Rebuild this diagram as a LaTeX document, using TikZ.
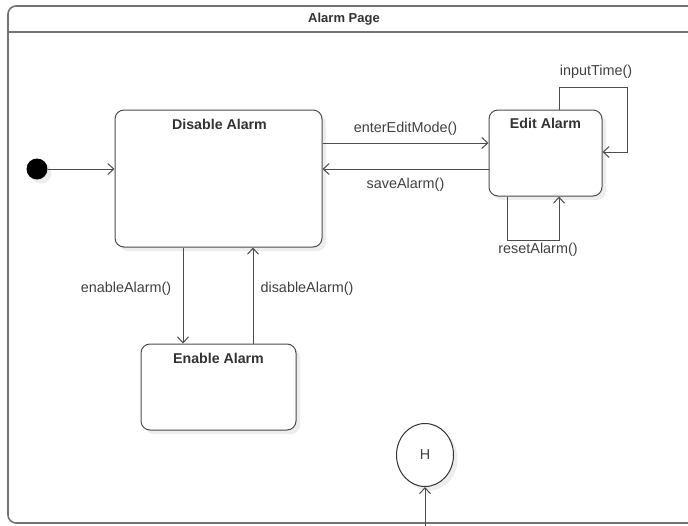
\documentclass[tikz,border=0pt]{standalone}
\usepackage{fontspec}
\setmainfont{Liberation Sans}
\usetikzlibrary{arrows.meta,shadows,shapes.geometric}
\begin{document}
\begin{tikzpicture}[x=1pt,y=-1pt,
  lbl/.style={font=\fontsize{14.4}{16}\selectfont, text=black!75},
  ttl/.style={font=\fontsize{14.2}{16}\selectfont\bfseries, text=black!80},
  shd/.style={drop shadow={shadow xshift=4pt,shadow yshift=-4pt,opacity=0.07,fill=black}},
  state/.style={draw=black!70, line width=1pt, rounded corners=9pt, fill=white, shd, inner sep=0pt},
  edge/.style={draw=black!70, line width=1pt, -{Straight Barb[length=6pt,width=11pt,line width=1pt]}},
  plain/.style={draw=black!70, line width=1pt}
]
\useasboundingbox (0,0) rectangle (688,525);
\clip (0,0) rectangle (688,525);
% frame
\draw[draw=black!55, line width=1.6pt, rounded corners=8pt] (720,6) -- (8,6) -- (8,523) -- (720,523);
\draw[draw=black!55, line width=1.6pt] (8,32) -- (720,32);
\node[font=\fontsize{13}{15}\selectfont\bfseries, text=black!80] (frametitle) at (344,19) {Alarm Page};

% initial
\node[circle, fill=black, minimum size=21pt, inner sep=0pt, shd] (init) at (37,169) {};

% states
\node[state, minimum width=207pt, minimum height=137pt] (dis) at (218.5,178.5) {};
\node[ttl, anchor=north] (distitle) at (219.5,116) {Disable Alarm};
\node[state, minimum width=113pt, minimum height=86pt] (edit) at (545.5,153) {};
\node[ttl, anchor=north] (edittitle) at (545.5,115) {Edit Alarm};
\node[state, minimum width=155pt, minimum height=86pt] (en) at (218.5,387) {};
\node[ttl, anchor=north] (entitle) at (218.5,350) {Enable Alarm};
\node[ellipse, draw=black!80, line width=1pt, fill=white, shd, minimum width=57pt, minimum height=63pt, inner sep=0pt] (hist) at (425,455) {};
\node[lbl] (htxt) at (425,455) {H};
\coordinate (hbot) at (425,530);

% connectors
\draw[edge] (init) -- (dis.west |- init);
\draw[edge] (dis.east |- 0,143) -- (edit.west |- 0,143) node[lbl, midway, above=4pt] (l1) {enterEditMode()};
\draw[edge] (edit.west |- 0,169) -- (dis.east |- 0,169) node[lbl, midway, below=5pt] (l2) {saveAlarm()};
\draw[edge] (edit.north -| 559,0) -- (559,87) -- (627,87) -- (627,152) -- (edit.east |- 0,152);
\node[lbl] (l3) at (596,72) {inputTime()};
\draw[edge] (edit.south -| 507,0) -- (507,240) -- (559,240) -- (edit.south -| 559,0);
\node[lbl] (l4) at (538,250) {resetAlarm()};
\draw[edge] (dis.south -| 183,0) -- (en.north -| 183,0);
\node[lbl] (l5) at (126,289) {enableAlarm()};
\draw[edge] (en.north -| 253,0) -- (dis.south -| 253,0);
\node[lbl] (l6) at (307,289) {disableAlarm()};
\draw[edge] (hbot) -- (hist.south);
\end{tikzpicture}
\end{document}
